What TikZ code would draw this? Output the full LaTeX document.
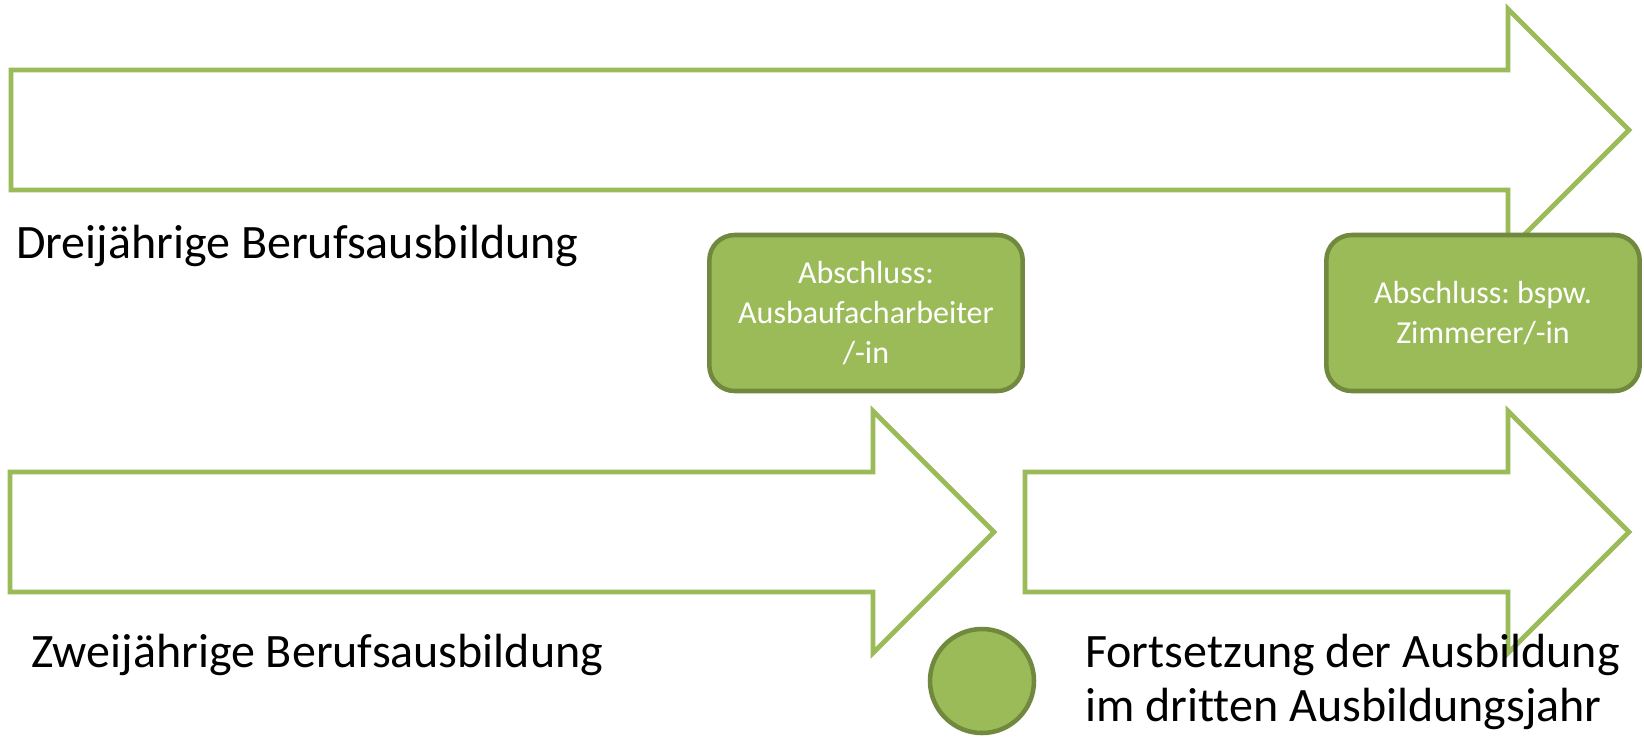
\documentclass[tikz,border=0pt]{standalone}
\usepackage{fontspec}
\setmainfont{Carlito}[Ligatures=NoCommon]
\frenchspacing
\definecolor{olive}{RGB}{155,187,89}
\definecolor{olivedark}{RGB}{113,137,63}
\begin{document}
\begin{tikzpicture}[x=0.75pt,y=-0.75pt,
  arrowshape/.style={draw=olive,line width=3.6pt,fill=white,line join=miter},
  endbox/.style={draw=olivedark,fill=olive,line width=3.4pt,rounded corners=19pt,
    minimum width=235pt,minimum height=117pt,inner sep=0pt,align=center,
    text=white,font=\fontsize{24}{30}\selectfont},
  label/.style={inner sep=0pt,text=black,font=\fontsize{36}{40}\selectfont},
  marker/.style={circle,draw=olivedark,fill=olive,line width=3.4pt,minimum size=78pt,inner sep=0pt}]
\useasboundingbox (0,0) rectangle (1644,736);
\fill[white] (0,0) rectangle (1644,736);

% three-year training (long arrow)
\draw[arrowshape] (11,70) -- (1508,70) -- (1508,9) -- (1629,130) -- (1508,251)
  -- (1508,190) -- (11,190) -- cycle;
% two-year training
\draw[arrowshape] (10,472) -- (873,472) -- (873,411) -- (994,532) -- (873,653)
  -- (873,592) -- (10,592) -- cycle;
% continuation in the third year
\draw[arrowshape] (1025,472) -- (1508,472) -- (1508,411) -- (1629,532) -- (1508,653)
  -- (1508,592) -- (1025,592) -- cycle;

% qualifications
\node[endbox] (ausbau) at (866,313) {Abschluss:\\Ausbaufacharbeiter\\/-in};
\node[endbox] (zimmerer) at (1483,313) {Abschluss: bspw.\\Zimmerer/-in};

% captions
\node[label,anchor=base west] (drei) at (16,258) {Dreijährige Berufsausbildung};
\node[label,anchor=base west] (zwei) at (31,667) {Zweijährige Berufsausbildung};
\node[marker] (punkt) at (982,681) {};
\node[label,anchor=base west,align=left] (fort) at (1085,721)
  {Fortsetzung der Ausbildung\\im dritten Ausbildungsjahr};
\end{tikzpicture}
\end{document}
